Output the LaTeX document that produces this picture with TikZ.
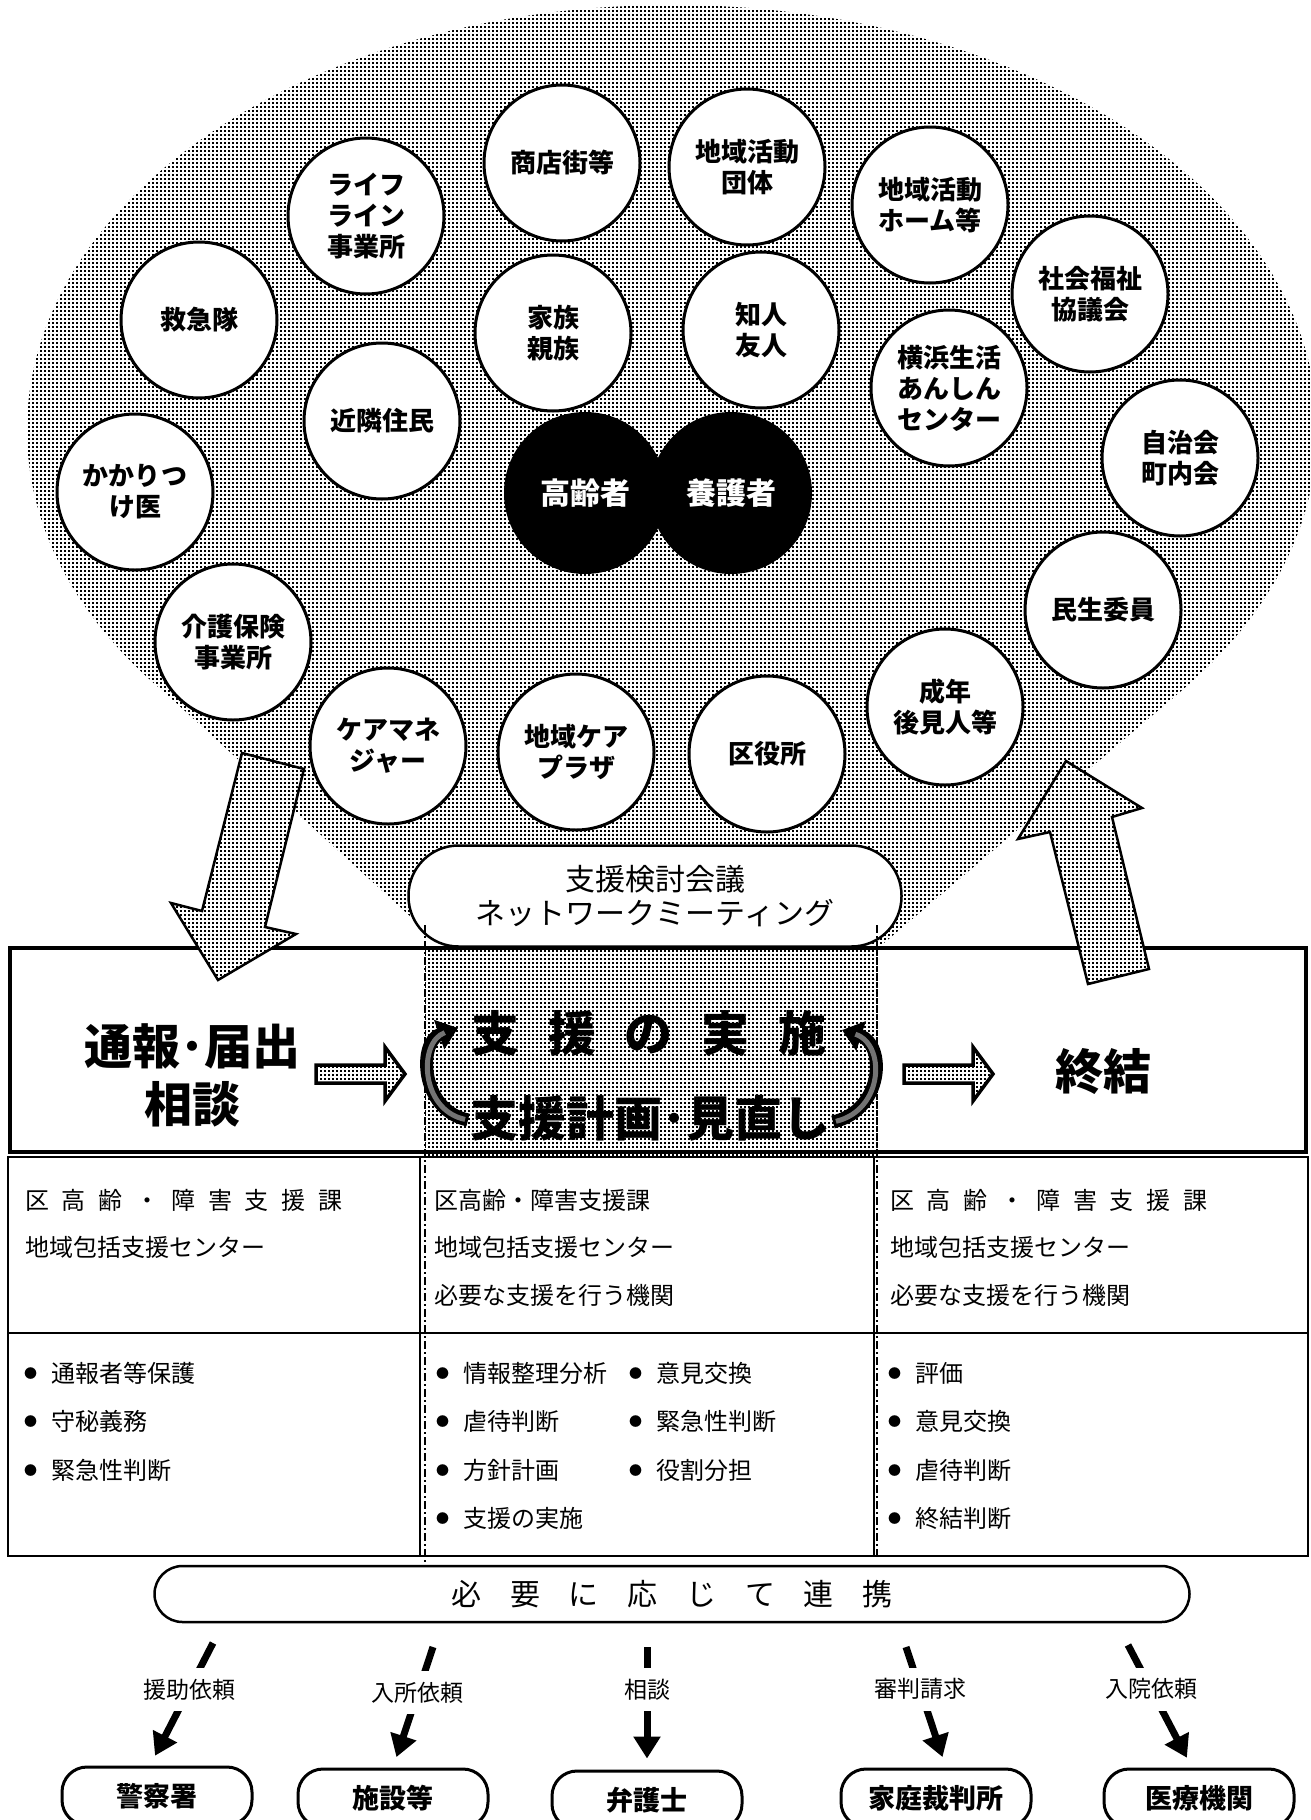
\documentclass[tikz,border=0pt]{standalone}
\usepackage{fontspec}
\setmainfont{Noto Sans CJK JP}
\usetikzlibrary{patterns,arrows.meta,calc}
\pgfdeclarepatternformonly{hdots}{\pgfqpoint{0pt}{0pt}}{\pgfqpoint{4pt}{4pt}}{\pgfqpoint{4pt}{4pt}}{\pgfpathrectangle{\pgfqpoint{0pt}{0pt}}{\pgfqpoint{2.4pt}{2.4pt}}\pgfusepath{fill}}
\newcommand\bul{\raisebox{4pt}{\fontsize{13}{13}\selectfont ●}\hspace{14pt}}
\begin{document}
\begin{tikzpicture}[x=1pt,y=-1pt,
  dotfill/.style={pattern=hdots, pattern color=black},
  dotshape/.style={draw, line width=2.5pt, line join=miter, preaction={fill=white}, pattern=hdots, pattern color=black},
  smallarrow/.style={draw, line width=3.5pt, line join=miter, preaction={fill=white}, pattern=hdots, pattern color=black},
  circ/.style={circle, draw, line width=3pt, fill=white, minimum size=156pt, inner sep=0pt, align=center, font=\bfseries\fontsize{26}{31}\selectfont},
  bcirc/.style={circle, fill=black, minimum size=162pt, inner sep=0pt, text=white, font=\bfseries\fontsize{30}{34}\selectfont},
  bigt/.style={inner sep=0pt, align=center, font=\bfseries\fontsize{48}{58}\selectfont},
  cell/.style={anchor=west, inner sep=0pt, font=\fontsize{24}{24}\selectfont},
  dashdot/.style={line width=1.6pt, dash pattern=on 8pt off 3pt on 2pt off 3pt},
  endbox/.style={draw, line width=3pt, rounded corners=25pt, minimum width=190pt, minimum height=58pt, inner sep=0pt, fill=white, font=\bfseries\fontsize{27}{27}\selectfont},
  conn/.style={line width=7pt, -{Triangle[length=22pt,width=26pt]}, shorten >=11pt},
  lbl/.style={fill=white, inner xsep=3pt, inner ysep=11pt, font=\fontsize{23}{23}\selectfont}
]
\useasboundingbox (0,0) rectangle (1310,1820);
\clip (0,0) rectangle (1310,1820);
\fill[white] (0,0) rectangle (1310,1820);

% balloon
\fill[dotfill] (672,430) ellipse [x radius=645pt, y radius=425pt];
\fill[dotfill] (162,690) -- (445,948) -- (878,948) -- (1174,697) -- (672,430) -- cycle;

% circles
\node[circ] (shoten) at (562,163) {商店街等};
\node[circ] (katsudan) at (747,167) {地域活動\\団体};
\node[circ] (lifeline) at (366,216) {ライフ\\ライン\\事業所};
\node[circ] (home) at (930,205) {地域活動\\ホーム等};
\node[circ] (shakyo) at (1090,294) {社会福祉\\協議会};
\node[circ] (kyukyu) at (199,320) {救急隊};
\node[circ] (kazoku) at (553,333) {家族\\親族};
\node[circ] (chijin) at (761,330) {知人\\友人};
\node[circ] (anshin) at (949,388) {横浜生活\\あんしん\\センター};
\node[circ] (kinrin) at (382,421) {近隣住民};
\node[circ] (jichi) at (1180,458) {自治会\\町内会};
\node[circ] (kakari) at (135,492) {かかりつ\\け医};
\node[circ] (minsei) at (1103,610) {民生委員};
\node[circ] (kaigo) at (233,642) {介護保険\\事業所};
\node[circ] (seinen) at (945,707) {成年\\後見人等};
\node[circ] (caremane) at (388,746) {ケアマネ\\ジャー};
\node[circ] (plaza) at (576,752) {地域ケア\\プラザ};
\node[circ] (kuyaku) at (767,754) {区役所};
\node[bcirc] (korei) at (585,493) {高齢者};
\node[bcirc] (yogo) at (731,493) {養護者};

% main box and table
\draw[line width=3.5pt] (10,948) rectangle (1306,1152);
\fill[dotfill] (425,950) rectangle (878,1157);
\draw[line width=2pt] (8,1157) rectangle (1308,1556);
\draw[line width=2pt] (8,1333) -- (1308,1333);
\draw[line width=2pt] (420,1157) -- (420,1556);
\draw[line width=2pt] (874,1157) -- (874,1556);

% meeting pill
\node[draw, line width=2.5pt, fill=white, rounded corners=50pt, minimum width=493pt, minimum height=101pt, inner sep=0pt, align=center, font=\fontsize{30}{34}\selectfont] (mtg) at (655,896) {支援検討会議\\ネットワークミーティング};

% dash-dot lines
\draw[dashdot] (425,925) -- (425,1565);
\draw[dashdot] (877,925) -- (877,1556);

% big arrows
\path[dotshape] (242,753) -- (304,769) -- (265,927) -- (296,934) -- (218,980) -- (171,903) -- (202,911) -- cycle;
\path[dotshape] (1066,761) -- (1142,808) -- (1112,817) -- (1149,969) -- (1088,984) -- (1050,832) -- (1018,839) -- cycle;

% small horizontal arrows
\path[smallarrow] (316,1065) -- (385,1065) -- (385,1047) -- (405,1074) -- (385,1101) -- (385,1083) -- (316,1083) -- cycle;
\path[smallarrow] (904,1065) -- (973,1065) -- (973,1047) -- (993,1074) -- (973,1101) -- (973,1083) -- (904,1083) -- cycle;

% box texts
\node[bigt] (tsuho) at (192,1075) {通報･届出\\相談};
\node[bigt] (jisshi) at (649,1033) {\makebox[355pt][s]{支\hfill 援\hfill の\hfill 実\hfill 施}};
\node[bigt] (keikaku) at (650,1118) {支援計画･見直し};
\node[bigt] (shuketsu) at (1103,1072) {終結};

% curved arrows
\draw[line width=13pt, -{Triangle[length=20pt,width=30pt]}] (468,1120) .. controls (420,1110) and (418,1042) .. (458,1028);
\draw[line width=5pt, black!55, shorten >=14pt, shorten <=3pt] (468,1120) .. controls (420,1110) and (418,1042) .. (458,1028);
\draw[line width=13pt, -{Triangle[length=20pt,width=30pt]}] (833,1122) .. controls (884,1110) and (886,1044) .. (842,1030);
\draw[line width=5pt, black!55, shorten >=14pt, shorten <=3pt] (833,1122) .. controls (884,1110) and (886,1044) .. (842,1030);

% table texts
\node[cell] (l1) at (25,1200) {\makebox[317pt][s]{区\hfill 高\hfill 齢\hfill ・\hfill 障\hfill 害\hfill 支\hfill 援\hfill 課}};
\node[cell] (l2) at (25,1247) {地域包括支援センター};
\node[cell] (m1) at (434,1200) {区高齢・障害支援課};
\node[cell] (m2) at (434,1247) {地域包括支援センター};
\node[cell] (m3) at (434,1295) {必要な支援を行う機関};
\node[cell] (r1) at (890,1200) {\makebox[317pt][s]{区\hfill 高\hfill 齢\hfill ・\hfill 障\hfill 害\hfill 支\hfill 援\hfill 課}};
\node[cell] (r2) at (890,1247) {地域包括支援センター};
\node[cell] (r3) at (890,1295) {必要な支援を行う機関};

\node[cell] (lb1) at (24,1373) {\bul 通報者等保護};
\node[cell] (lb2) at (24,1421) {\bul 守秘義務};
\node[cell] (lb3) at (24,1470) {\bul 緊急性判断};
\node[cell] (mb1) at (436,1373) {\bul 情報整理分析};
\node[cell] (mb2) at (436,1421) {\bul 虐待判断};
\node[cell] (mb3) at (436,1470) {\bul 方針計画};
\node[cell] (mb4) at (436,1518) {\bul 支援の実施};
\node[cell] (mc1) at (629,1373) {\bul 意見交換};
\node[cell] (mc2) at (629,1421) {\bul 緊急性判断};
\node[cell] (mc3) at (629,1470) {\bul 役割分担};
\node[cell] (rb1) at (888,1373) {\bul 評価};
\node[cell] (rb2) at (888,1421) {\bul 意見交換};
\node[cell] (rb3) at (888,1470) {\bul 虐待判断};
\node[cell] (rb4) at (888,1518) {\bul 終結判断};

% cooperation pill
\node[draw, line width=2.5pt, rounded corners=28pt, minimum width=1035pt, minimum height=56pt, inner sep=0pt, font=\fontsize{30}{30}\selectfont] (renkei) at (672,1594) {\makebox[441pt][s]{必\hfill 要\hfill に\hfill 応\hfill じ\hfill て\hfill 連\hfill 携}};

% end boxes
\node[endbox] (b1) at (157,1796) {警察署};
\node[endbox] (b2) at (393,1798) {施設等};
\node[endbox] (b3) at (647,1800) {弁護士};
\node[endbox] (b4) at (936,1798) {家庭裁判所};
\node[endbox] (b5) at (1199,1798) {医療機関};

% connectors
\coordinate (s1) at (213,1643);
\coordinate (s2) at (433,1647);
\coordinate (s3) at (647,1647);
\coordinate (s4) at (906,1647);
\coordinate (s5) at (1128,1645);
\draw[conn] (s1) -- ([xshift=-7pt]b1.north) node[lbl, pos=0.38] {援助依頼};
\draw[conn] (s2) -- (b2.north) node[lbl, pos=0.38] {入所依頼};
\draw[conn] (s3) -- (b3.north) node[lbl, pos=0.35] {相談};
\draw[conn] (s4) -- ([xshift=10pt]b4.north) node[lbl, pos=0.35] {審判請求};
\draw[conn] (s5) -- ([xshift=-7pt]b5.north) node[lbl, pos=0.36] {入院依頼};
\end{tikzpicture}
\end{document}
